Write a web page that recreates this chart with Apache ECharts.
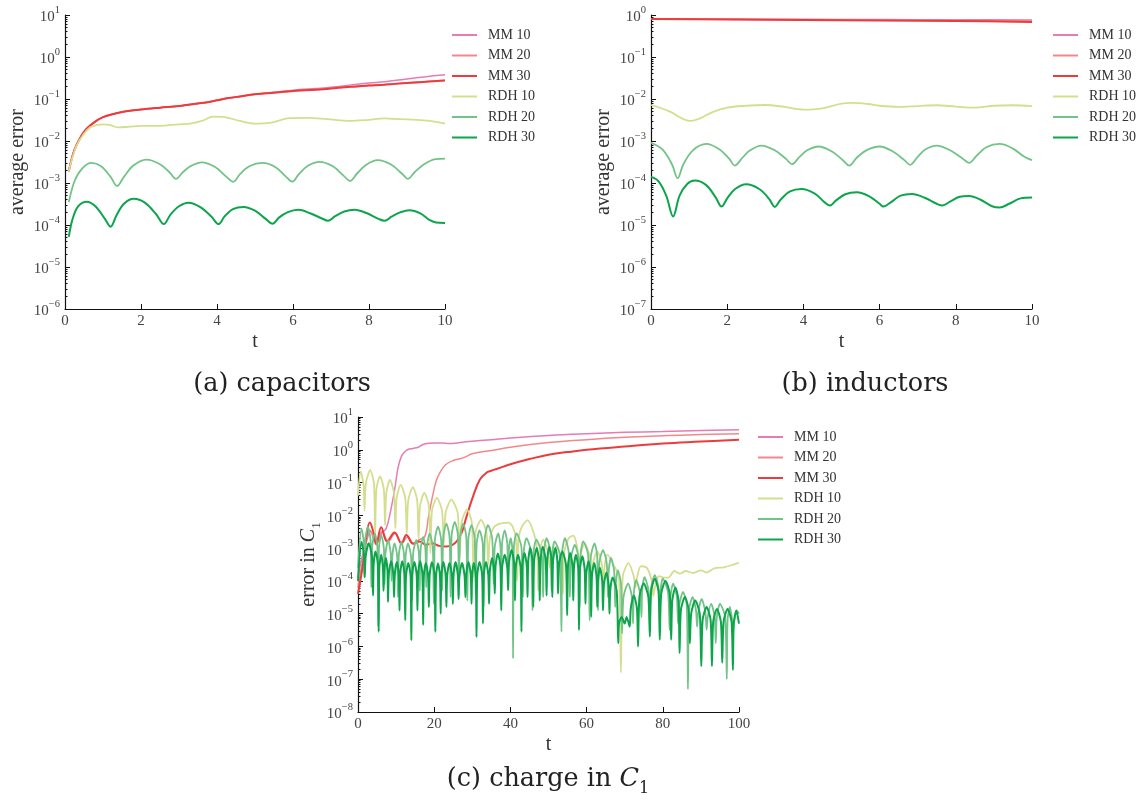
<!DOCTYPE html>
<html><head><meta charset="utf-8">
<script src="https://cdn.jsdelivr.net/npm/echarts@6/dist/echarts.min.js"></script>
<style>html,body{margin:0;padding:0;background:#fff}#c{width:1138px;height:805px}</style>
</head><body><div id="c"></div>
<script>
// ---------- names / colours ----------
const seriesNames = ['MM 10','MM 20','MM 30','RDH 10','RDH 20','RDH 30'];
const seriesColors = ['#e57cb6','#f3888a','#ec3b3b','#d5de8e','#72c387','#0ca54c'];
const seriesWidths = [1.5,1.5,2,1.8,1.8,2];
const captions = ['(a) capacitors','(b) inductors','(c) charge in '];

// ---------- (a) capacitors : [t, average error] ----------
const capMM30 = [[0.1,1.9e-3],[0.2,4.5e-3],[0.3,7.9e-3],[0.5,1.66e-2],[0.75,2.7e-2],[1,3.7e-2],[1.5,4.9e-2],[2,5.6e-2],[2.5,6.2e-2],[3,6.8e-2],[3.5,7.8e-2],[3.8,8.5e-2],[4,9.3e-2],[4.3,0.105],[4.6,0.115],[5,0.129],[5.5,0.141],[6,0.155],[6.6,0.166],[7,0.178],[7.5,0.195],[8,0.209],[8.4,0.219],[9,0.24],[9.5,0.257],[10,0.275]];
const capMM20 = [[0.1,1.9e-3],[0.2,4.5e-3],[0.3,7.9e-3],[0.5,1.66e-2],[0.75,2.7e-2],[1,3.7e-2],[1.5,4.9e-2],[2,5.6e-2],[2.5,6.2e-2],[3,6.8e-2],[3.5,7.8e-2],[3.8,8.5e-2],[4,9.3e-2],[4.3,0.105],[4.6,0.115],[5,0.129],[5.5,0.142],[6,0.156],[6.6,0.168],[7,0.18],[7.5,0.197],[8,0.212],[8.4,0.222],[9,0.245],[9.5,0.262],[10,0.28]];
const capMM10 = [[0.1,1.9e-3],[0.2,4.5e-3],[0.3,7.9e-3],[0.5,1.66e-2],[0.75,2.7e-2],[1,3.7e-2],[1.5,4.9e-2],[2,5.6e-2],[2.5,6.2e-2],[3,6.8e-2],[3.5,7.8e-2],[3.8,8.5e-2],[4,9.3e-2],[4.3,0.105],[4.6,0.115],[5,0.13],[5.5,0.145],[6,0.162],[6.6,0.178],[7,0.19],[7.5,0.214],[8,0.24],[8.4,0.257],[9,0.3],[9.5,0.34],[10,0.38]];
const capRDH10 = [[0.1,1.9e-3],[0.2,4.2e-3],[0.3,7.6e-3],[0.5,1.5e-2],[0.7,2.2e-2],[1,2.5e-2],[1.2,2.4e-2],[1.4,2.1e-2],[1.7,2.2e-2],[2,2.3e-2],[2.5,2.3e-2],[3,2.5e-2],[3.3,2.6e-2],[3.6,3.0e-2],[3.9,3.8e-2],[4.2,3.7e-2],[4.6,3.0e-2],[5,2.6e-2],[5.4,2.7e-2],[5.9,3.5e-2],[6.4,3.55e-2],[6.9,3.3e-2],[7.5,3.0e-2],[8,3.2e-2],[8.4,3.45e-2],[8.8,3.3e-2],[9.25,3.2e-2],[9.6,3.0e-2],[10,2.6e-2]];
const capRDH20 = [[0.1,3.5e-4],[0.25,1.1e-3],[0.45,2.2e-3],[0.7,3.0e-3],[0.95,2.5e-3],[1.2,1.4e-3],[1.37,8.5e-4],[1.55,1.4e-3],[1.8,2.6e-3],[2.14,3.6e-3],[2.5,2.8e-3],[2.75,1.8e-3],[2.92,1.26e-3],[3.1,1.8e-3],[3.3,2.5e-3],[3.6,3.1e-3],[3.95,2.4e-3],[4.25,1.4e-3],[4.43,1.07e-3],[4.6,1.6e-3],[4.85,2.5e-3],[5.2,3.0e-3],[5.55,2.35e-3],[5.82,1.4e-3],[5.98,1.07e-3],[6.15,1.6e-3],[6.4,2.6e-3],[6.7,3.2e-3],[7.05,2.5e-3],[7.33,1.5e-3],[7.5,1.12e-3],[7.68,1.66e-3],[7.92,2.7e-3],[8.23,3.5e-3],[8.58,2.75e-3],[8.87,1.66e-3],[9.02,1.26e-3],[9.2,1.8e-3],[9.45,2.8e-3],[9.75,3.7e-3],[10,3.8e-3]];
const capRDH30 = [[0.1,5.2e-5],[0.2,1.4e-4],[0.35,2.8e-4],[0.57,3.6e-4],[0.8,2.8e-4],[1.05,1.4e-4],[1.2,9.1e-5],[1.35,1.66e-4],[1.55,3.2e-4],[1.81,4.2e-4],[2.1,3.4e-4],[2.4,1.8e-4],[2.6,1.05e-4],[2.78,1.8e-4],[3,2.8e-4],[3.25,3.4e-4],[3.55,2.7e-4],[3.85,1.6e-4],[4.04,1.05e-4],[4.2,1.6e-4],[4.42,2.4e-4],[4.7,2.7e-4],[5,2.2e-4],[5.28,1.4e-4],[5.46,1.07e-4],[5.63,1.5e-4],[5.85,2.0e-4],[6.14,2.3e-4],[6.45,1.9e-4],[6.75,1.45e-4],[6.92,1.26e-4],[7.1,1.6e-4],[7.35,2.1e-4],[7.62,2.3e-4],[7.95,1.9e-4],[8.25,1.4e-4],[8.41,1.26e-4],[8.6,1.6e-4],[8.82,2.0e-4],[9.06,2.25e-4],[9.35,1.9e-4],[9.6,1.3e-4],[9.76,1.15e-4],[10,1.12e-4]];

// ---------- (b) inductors : [t, average error] ----------
const indMM10 = [[0,0.81],[2,0.8],[4,0.79],[6,0.78],[8,0.77],[10,0.76]];
const indMM20 = [[0,0.81],[2,0.79],[4,0.775],[6,0.76],[8,0.745],[10,0.73]];
const indMM30 = [[0,0.8],[2,0.78],[4,0.76],[6,0.74],[8,0.72],[10,0.685]];
const indRDH10 = [[0,7.2e-3],[0.5,5.0e-3],[0.8,3.5e-3],[1.05,3.0e-3],[1.3,3.5e-3],[1.6,4.8e-3],[2,6.2e-3],[2.5,6.9e-3],[3,7.2e-3],[3.5,6.5e-3],[4,5.6e-3],[4.5,6.0e-3],[5,7.8e-3],[5.3,8.1e-3],[5.7,7.6e-3],[6,6.9e-3],[6.5,6.5e-3],[7,6.8e-3],[7.5,7.1e-3],[8,6.6e-3],[8.5,6.2e-3],[9,6.9e-3],[9.5,7.1e-3],[10,6.8e-3]];
const indRDH20 = [[0,9.1e-4],[0.3,6.3e-4],[0.55,2.8e-4],[0.7,1.3e-4],[0.85,2.8e-4],[1.1,6.0e-4],[1.45,8.5e-4],[1.8,6.3e-4],[2.05,3.8e-4],[2.2,2.6e-4],[2.4,4.0e-4],[2.6,6.0e-4],[2.9,7.8e-4],[3.25,6.0e-4],[3.55,3.7e-4],[3.7,2.8e-4],[3.9,4.2e-4],[4.1,6.0e-4],[4.4,7.4e-4],[4.75,5.6e-4],[5.05,3.4e-4],[5.2,2.6e-4],[5.4,4.0e-4],[5.65,6.0e-4],[6,7.4e-4],[6.35,5.6e-4],[6.65,3.5e-4],[6.8,2.7e-4],[7,4.2e-4],[7.2,6.3e-4],[7.5,7.8e-4],[7.85,6.0e-4],[8.2,3.7e-4],[8.35,3.0e-4],[8.55,4.5e-4],[8.8,7.1e-4],[9.15,8.5e-4],[9.5,6.6e-4],[9.8,4.2e-4],[10,3.5e-4]];
const indRDH30 = [[0,1.4e-4],[0.2,1.1e-4],[0.4,5.0e-5],[0.58,1.6e-5],[0.75,5.0e-5],[0.95,9.5e-5],[1.15,1.15e-4],[1.45,8.9e-5],[1.7,4.5e-5],[1.85,2.75e-5],[2,4.3e-5],[2.2,7.1e-5],[2.5,9.3e-5],[2.85,7.1e-5],[3.1,4.2e-5],[3.25,2.7e-5],[3.4,4.0e-5],[3.65,6.3e-5],[3.95,7.2e-5],[4.3,5.6e-5],[4.55,3.5e-5],[4.7,2.9e-5],[4.85,3.8e-5],[5.1,5.4e-5],[5.4,6.0e-5],[5.75,4.7e-5],[6,3.2e-5],[6.1,2.75e-5],[6.3,3.5e-5],[6.55,5.0e-5],[6.85,5.5e-5],[7.2,4.4e-5],[7.5,3.2e-5],[7.65,2.9e-5],[7.85,3.6e-5],[8.1,4.7e-5],[8.35,4.9e-5],[8.65,4.0e-5],[8.95,2.8e-5],[9.15,2.6e-5],[9.4,3.2e-5],[9.7,4.3e-5],[10,4.5e-5]];

// ---------- (c) charge in C1 : [t, error] ----------
const chgMM10 = [[0,1.3e-4],[1,5.0e-4],[2,1.26e-3],[3.3,3.2e-3],[4.8,1.4e-3],[6.2,2.8e-3],[7.4,4.0e-3],[8.5,1.26e-2],[9.6,5.9e-2],[10.5,0.28],[11.4,0.63],[12.3,0.87],[13.1,1.02],[14.4,1.1],[15.8,1.2],[16.8,1.4],[18,1.55],[20,1.62],[22,1.62],[24,1.55],[26,1.62],[30,1.82],[35,2.04],[40,2.3],[50,2.75],[60,3.1],[70,3.4],[80,3.6],[90,3.9],[100,4.1]];
const chgMM20 = [[0,6.3e-5],[1.5,6.3e-4],[3.2,3.5e-3],[4.8,1.26e-3],[6.3,3.2e-3],[8,1.6e-3],[9.7,2.8e-3],[11.5,1.4e-3],[13,2.2e-3],[14.6,1.4e-3],[16,1.8e-3],[17.5,2.2e-3],[18.5,8.9e-3],[19.5,3.5e-2],[20.5,0.11],[21.5,0.2],[23,0.35],[25,0.47],[27,0.54],[28.5,0.63],[30,0.76],[35,0.95],[40,1.2],[50,1.66],[60,2.04],[70,2.4],[80,2.7],[90,2.9],[100,3.1]];
const chgMM30 = [[0,4.0e-5],[0.6,1.0e-4],[1.3,3.2e-4],[2.1,2.0e-3],[3.1,6.0e-3],[4,3.2e-3],[4.8,1.35e-3],[6.1,4.3e-3],[7.6,1.6e-3],[9.6,3.0e-3],[11.4,1.4e-3],[12.7,2.5e-3],[14.5,1.35e-3],[16.2,1.6e-3],[17.8,1.26e-3],[19.5,1.4e-3],[21.3,1.17e-3],[23.2,1.12e-3],[24.8,1.26e-3],[25.9,1.6e-3],[27.2,2.9e-3],[28.5,9.3e-3],[30.2,3.8e-2],[32,0.123],[33.7,0.2],[35,0.23],[36.4,0.26],[40,0.36],[45,0.52],[50,0.71],[55,0.85],[60,1.0],[70,1.26],[80,1.55],[90,1.78],[100,2.04]];
const chgRDH10 = [[0,4e-2],[0.7,0.22],[1.45,8.8e-2],[1.7,1.4e-2],[2.08,9.6e-2],[3.2,0.24],[4.18,9.6e-2],[4.5,2.5e-3],[4.82,6.2e-2],[5.8,0.155],[6.78,6.2e-2],[7.1,5.0e-3],[7.42,4.8e-2],[8.4,0.12],[9.45,4.8e-2],[9.8,4.0e-3],[10.15,3.4e-2],[11.2,8.5e-2],[12.4,3.4e-2],[12.8,2.8e-3],[13.2,2.9e-2],[14.4,7.2e-2],[15.52,2.9e-2],[15.9,2.0e-3],[16.28,1.9e-2],[17.4,4.8e-2],[18.6,1.9e-2],[19,7.1e-4],[19.42,1.4e-2],[20.7,3.4e-2],[22.05,1.4e-2],[22.5,1.26e-3],[23,1.2e-2],[24.5,3.0e-2],[26.15,1.2e-2],[26.7,5.0e-4],[27.18,6.0e-3],[28.6,1.5e-2],[29.88,6.0e-3],[30.3,1.26e-4],[30.8,2.9e-3],[32.3,7.2e-3],[33.72,2.9e-3],[34.2,3.2e-4],[34.6,2.0e-3],[35.5,4.0e-3],[36.5,5.2e-3],[38,5.8e-3],[39.5,6.0e-3],[40.6,4.5e-3],[41.5,1.8e-3],[41.8,1.0e-4],[42.1,1.8e-3],[43,4.5e-3],[44.5,7.1e-3],[46,3.2e-3],[47,1.0e-3],[47.3,5.0e-5],[47.62,7.2e-4],[48.6,1.8e-3],[49.9,7.2e-4],[50.3,2.5e-4],[50.72,4.5e-4],[52,1.12e-3],[53.35,4.5e-4],[53.8,4.0e-5],[54.18,8e-4],[55.3,2.0e-3],[56.5,2.4e-3],[57.62,9.6e-4],[58,1.26e-4],[58.38,5.6e-4],[59.5,1.4e-3],[60.78,5.6e-4],[61.2,4.0e-5],[61.6,3.2e-4],[62.8,7.9e-4],[64,3.2e-4],[64.4,3.2e-5],[64.68,2.5e-4],[65.5,6.3e-4],[67,3.2e-4],[68.5,1.3e-4],[69,1.6e-7],[69.5,1.4e-4],[71,3.5e-4],[72.35,1.4e-4],[72.8,6.3e-5],[73.15,1.1e-4],[74.2,2.8e-4],[75.8,2.5e-4],[77.1,1.0e-4],[77.5,3.5e-5],[77.9,6e-5],[79,1.4e-4],[80.3,1.26e-4],[81.5,1.26e-4],[83,2.0e-4],[84.5,1.66e-4],[86,2.0e-4],[88,1.74e-4],[90,2.1e-4],[91.5,1.8e-4],[93.5,2.4e-4],[96,2.6e-4],[98,3.0e-4],[100,3.6e-4]];
const chgRDH20 = [[0,2.5e-4],[0.9,4.0e-3],[1.5,1.6e-3],[1.7,1.26e-4],[1.92,1.8e-3],[2.6,4.5e-3],[3.28,1.8e-3],[3.5,6.3e-5],[3.72,1.1e-3],[4.4,2.8e-3],[5.08,1.1e-3],[5.3,4.0e-6],[5.5,1.0e-3],[6.1,2.5e-3],[6.78,1.0e-3],[7,7.9e-5],[7.22,7.0e-4],[7.9,1.74e-3],[8.58,7.0e-4],[8.8,1.0e-4],[9,5.6e-4],[9.6,1.4e-3],[10.28,5.6e-4],[10.5,3.2e-5],[10.72,6.2e-4],[11.4,1.55e-3],[12.08,6.2e-4],[12.3,1.26e-5],[12.5,5.6e-4],[13.1,1.4e-3],[13.92,5.6e-4],[14.2,2.5e-5],[14.48,7.0e-4],[15.3,1.74e-3],[15.98,7.0e-4],[16.2,5.0e-5],[16.42,8.8e-4],[17.1,2.2e-3],[17.7,8.8e-4],[17.9,6.3e-5],[18.12,1.1e-3],[18.8,2.8e-3],[19.62,1.1e-3],[19.9,2.0e-5],[20.18,1.8e-3],[21,4.5e-3],[21.82,1.8e-3],[22.1,5.0e-5],[22.38,2.2e-3],[23.2,5.6e-3],[24.02,2.2e-3],[24.3,3.2e-5],[24.58,2.5e-3],[25.4,6.3e-3],[26.22,2.5e-3],[26.5,6.3e-5],[26.78,2.2e-3],[27.6,5.6e-3],[28.42,2.2e-3],[28.7,2.5e-5],[28.98,2.0e-3],[29.8,5.0e-3],[30.62,2.0e-3],[30.9,4.0e-5],[31.15,1.4e-3],[31.9,3.5e-3],[32.72,1.4e-3],[33,1.6e-5],[33.28,2.0e-3],[34.1,5.0e-3],[35.22,2.0e-3],[35.6,7.9e-5],[35.9,1.1e-3],[36.8,2.8e-3],[37.4,1.1e-3],[37.6,5.0e-5],[37.82,1.4e-3],[38.5,3.5e-3],[39.18,1.4e-3],[39.4,1.26e-4],[39.58,8e-4],[40.1,2.0e-3],[40.55,8e-4],[40.7,4.3e-7],[40.92,1.1e-3],[41.6,2.8e-3],[42.88,1.1e-3],[43.3,3.2e-5],[43.52,8e-4],[44.2,2.0e-3],[45.4,8e-4],[45.8,1.26e-5],[46.05,7.2e-4],[46.8,1.8e-3],[48.15,7.2e-4],[48.6,3.2e-5],[48.82,8e-4],[49.5,2.0e-3],[50.48,8e-4],[50.8,5.0e-5],[51,6.4e-4],[51.6,1.6e-3],[52.95,6.4e-4],[53.4,2.8e-6],[53.62,8e-4],[54.3,2.0e-3],[55.28,8e-4],[55.6,3.2e-5],[55.92,5e-4],[56.9,1.26e-3],[57.88,5e-4],[58.2,1.6e-5],[58.42,6.4e-4],[59.1,1.6e-3],[60.38,6.4e-4],[60.8,6.3e-6],[61.12,5.6e-4],[62.1,1.4e-3],[62.78,5.6e-4],[63,1.26e-5],[63.32,3.5e-4],[64.3,8.7e-4],[65.28,3.5e-4],[65.6,3.2e-5],[65.8,2.0e-4],[66.4,5.0e-4],[67.22,2.0e-4],[67.5,1.6e-5],[67.68,8.4e-5],[68.2,2.1e-4],[69.02,8.4e-5],[69.3,2.5e-6],[69.7,3.3e-5],[70.9,8.3e-5],[71.88,3.3e-5],[72.2,5.0e-6],[72.4,4.2e-5],[73,1.05e-4],[74.05,4.2e-5],[74.4,7.9e-6],[74.6,5.2e-5],[75.2,1.3e-4],[76.25,5.2e-5],[76.6,4.0e-6],[76.92,6.0e-5],[77.9,1.5e-4],[78.88,6.0e-5],[79.2,5.0e-6],[79.4,4.7e-5],[80,1.17e-4],[81.35,4.7e-5],[81.8,3.2e-6],[82.02,3.3e-5],[82.7,8.3e-5],[83.68,3.3e-5],[84,5.0e-6],[84.32,1.8e-5],[85.3,4.6e-5],[86.28,1.8e-5],[86.6,5.0e-8],[86.9,1.3e-5],[87.8,3.2e-5],[88.7,1.3e-5],[89,4.0e-6],[89.3,1.1e-5],[90.2,2.8e-5],[91.18,1.1e-5],[91.5,3.2e-6],[91.8,8e-6],[92.7,2.0e-5],[93.6,8e-6],[93.9,1.26e-6],[94.18,8e-6],[95,2.0e-5],[96.35,8e-6],[96.8,1.0e-7],[97,6.4e-6],[97.6,1.6e-5],[98.2,6.4e-6],[98.4,2.5e-6],[98.65,5e-6],[99.4,1.26e-5],[100,1.0e-5]];
const chgRDH30 = [[0,1.0e-4],[0.9,1.55e-3],[1.55,6.2e-4],[1.76,1.3e-4],[2.02,5.6e-4],[2.8,1.4e-3],[3.66,5.6e-4],[3.95,3.6e-5],[4.11,3.2e-4],[4.6,7.9e-4],[5.22,3.2e-4],[5.43,2.8e-6],[5.6,2.5e-4],[6.1,6.3e-4],[6.55,2.5e-4],[6.7,5.0e-5],[6.85,2.0e-4],[7.3,5.0e-4],[7.74,2.0e-4],[7.88,2.3e-5],[8.09,1.6e-4],[8.7,4.0e-4],[9.27,1.6e-4],[9.46,3.2e-5],[9.65,1.5e-4],[10.2,3.8e-4],[10.72,1.5e-4],[10.9,1.26e-5],[11.08,1.6e-4],[11.6,4.0e-4],[12.2,1.6e-4],[12.4,6.3e-6],[12.6,1.4e-4],[13.2,3.5e-4],[13.8,1.4e-4],[14,1.55e-6],[14.2,1.5e-4],[14.8,3.8e-4],[15.4,1.5e-4],[15.6,1.26e-5],[15.78,1.6e-4],[16.3,4.0e-4],[16.9,1.6e-4],[17.1,4.5e-6],[17.28,1.4e-4],[17.8,3.5e-4],[18.4,1.4e-4],[18.6,1.6e-5],[18.8,1.5e-4],[19.4,3.7e-4],[20.08,1.5e-4],[20.3,2.8e-6],[20.48,1.4e-4],[21,3.4e-4],[21.52,1.4e-4],[21.7,1.0e-5],[21.88,1.5e-4],[22.4,3.8e-4],[23,1.5e-4],[23.2,1.6e-5],[23.4,1.4e-4],[24,3.5e-4],[24.68,1.4e-4],[24.9,2.0e-5],[25.08,1.5e-4],[25.6,3.8e-4],[26.2,1.5e-4],[26.4,2.8e-5],[26.62,1.4e-4],[27.3,3.5e-4],[27.98,1.4e-4],[28.2,3.2e-5],[28.4,1.5e-4],[29,3.8e-4],[29.6,1.5e-4],[29.8,2.0e-5],[29.95,1.4e-4],[30.4,3.5e-4],[30.92,1.4e-4],[31.1,1.95e-6],[31.3,1.5e-4],[31.9,3.8e-4],[32.58,1.5e-4],[32.8,5.0e-6],[33,1.5e-4],[33.6,3.8e-4],[34.2,1.5e-4],[34.4,2.0e-5],[34.6,2.0e-4],[35.2,5.0e-4],[35.72,2.0e-4],[35.9,4.1e-5],[36.1,2.8e-4],[36.7,6.9e-4],[37.38,2.8e-4],[37.6,1.26e-5],[37.82,2.5e-4],[38.5,6.3e-4],[39.18,2.5e-4],[39.4,5.2e-5],[39.62,3.5e-4],[40.3,8.7e-4],[40.98,3.5e-4],[41.2,2.5e-5],[41.4,2.5e-4],[42,6.3e-4],[42.68,2.5e-4],[42.9,2.8e-6],[43.1,2.8e-4],[43.7,7.1e-4],[44.3,2.8e-4],[44.5,3.2e-5],[44.68,4.0e-4],[45.2,1.0e-3],[45.8,4.0e-4],[46,1.6e-5],[46.22,4.0e-4],[46.9,1.0e-3],[47.5,4.0e-4],[47.7,2.5e-5],[47.9,4.4e-4],[48.5,1.1e-3],[49.25,4.4e-4],[49.5,3.6e-5],[49.68,4.4e-4],[50.2,1.1e-3],[50.8,4.4e-4],[51,3.2e-5],[51.2,4.0e-4],[51.8,1.0e-3],[52.32,4.0e-4],[52.5,4.1e-5],[52.78,3.2e-4],[53.6,7.9e-4],[54.58,3.2e-4],[54.9,8.9e-6],[55.1,2.8e-4],[55.7,7.1e-4],[56.3,2.8e-4],[56.5,2.5e-5],[56.68,2.5e-4],[57.2,6.3e-4],[57.8,2.5e-4],[58,3.2e-6],[58.22,2.2e-4],[58.9,5.6e-4],[59.5,2.2e-4],[59.7,2.0e-5],[59.9,1.6e-4],[60.5,4.0e-4],[61.02,1.6e-4],[61.2,7.9e-6],[61.4,1.4e-4],[62,3.5e-4],[62.6,1.4e-4],[62.8,1.6e-5],[62.98,1.0e-4],[63.5,2.5e-4],[64.1,1.0e-4],[64.3,1.26e-5],[64.52,7.2e-5],[65.2,1.8e-4],[65.8,7.2e-5],[66,1.0e-5],[66.2,5.0e-5],[66.8,1.26e-4],[67.9,5.0e-5],[68.3,1.26e-6],[68.5,5.0e-6],[69.2,7.9e-6],[70,5.0e-6],[70.5,7.9e-6],[71.3,4.0e-6],[71.58,1.4e-5],[72.4,3.6e-5],[73.22,1.4e-5],[73.5,1.0e-6],[73.88,3.3e-5],[75,8.3e-5],[76.2,3.3e-5],[76.6,2.0e-6],[76.92,4.7e-5],[77.9,1.17e-4],[78.88,4.7e-5],[79.2,1.6e-6],[79.58,4.0e-5],[80.7,1.0e-4],[81.82,4.0e-5],[82.2,1.6e-6],[82.48,2.5e-5],[83.3,6.3e-5],[84.12,2.5e-5],[84.4,6.3e-7],[84.75,1.3e-5],[85.8,3.2e-5],[86.78,1.3e-5],[87.1,1.26e-6],[87.45,1.0e-5],[88.5,2.5e-5],[89.7,1.0e-5],[90.1,2.5e-7],[90.45,6.4e-6],[91.5,1.6e-5],[92.55,6.4e-6],[92.9,2.5e-7],[93.22,5.6e-6],[94.2,1.4e-5],[95.25,5.6e-6],[95.6,3.2e-7],[95.95,5.6e-6],[97,1.4e-5],[98.05,5.6e-6],[98.4,1.9e-7],[98.62,5.0e-6],[99.3,1.26e-5],[100,5.0e-6]];

// ---------- axis ranges / ticks ----------
const xRangeAB = [0, 10], xTickAB = 2;
const xRangeC = [0, 100], xTickC = 20;
const yRangeA = [1e-6, 10], yRangeB = [1e-7, 1], yRangeC = [1e-8, 10];

const FONT = '"Liberation Serif", "DejaVu Serif", serif';
const CAPFONT = '"DejaVu Serif", serif';

function minorValues(r) {
  const out = [];
  const e0 = Math.round(Math.log10(r[0])), e1 = Math.round(Math.log10(r[1]));
  for (let e = e0; e < e1; e++) for (let k = 2; k <= 9; k++) out.push(Number((k * Math.pow(10, e)).toPrecision(3)));
  return out;
}
function expLabel(v) {
  const e = Math.round(Math.log10(v));
  return '{b|10}{s|' + (e < 0 ? '\u2212' + (-e) : e) + '}';
}
const labelRich = {
  b: { fontFamily: FONT, fontSize: 15, color: '#444', verticalAlign: 'bottom', lineHeight: 20 },
  s: { fontFamily: FONT, fontSize: 10.5, color: '#444', verticalAlign: 'top', lineHeight: 20 }
};
function yMajor(gi, r, name, gap) {
  return {
    type: 'log', logBase: 10, gridIndex: gi, position: 'left', min: r[0], max: r[1], interval: 1,
    axisLine: { show: true, lineStyle: { color: '#111', width: 1.2 } },
    axisTick: { show: true, inside: true, length: 5, lineStyle: { color: '#111' } },
    axisLabel: { formatter: expLabel, rich: labelRich, margin: 5 },
    splitLine: { show: false },
    name: name, nameLocation: 'middle', nameGap: gap,
    nameTextStyle: {
      fontFamily: FONT, fontSize: 20, color: '#333',
      rich: {
        n: { fontFamily: FONT, fontSize: 20, color: '#333' },
        i: { fontFamily: FONT, fontSize: 20, color: '#333', fontStyle: 'italic' },
        sub: { fontFamily: FONT, fontSize: 13, color: '#333', verticalAlign: 'bottom', lineHeight: 28 }
      }
    }
  };
}
function yMinor(gi, r) {
  return {
    type: 'log', logBase: 10, gridIndex: gi, position: 'left', min: r[0], max: r[1], interval: 1,
    axisLine: { show: false },
    axisTick: { show: true, inside: true, length: 2.5, customValues: minorValues(r), lineStyle: { color: '#111' } },
    axisLabel: { show: false }, splitLine: { show: false }
  };
}
function xAx(gi, r, iv) {
  return {
    type: 'value', gridIndex: gi, min: r[0], max: r[1], interval: iv,
    axisLine: { lineStyle: { color: '#111', width: 1.2 } },
    axisTick: { inside: true, length: 5, lineStyle: { color: '#111' } },
    axisLabel: { fontFamily: FONT, fontSize: 15, color: '#444', margin: 5 },
    splitLine: { show: false },
    name: 't', nameLocation: 'middle', nameGap: 23,
    nameTextStyle: { fontFamily: FONT, fontSize: 20, color: '#333' }
  };
}
function mk(data, i, xi, yi, smooth) {
  return {
    name: seriesNames[i], type: 'line', data: data, xAxisIndex: xi, yAxisIndex: yi,
    symbol: 'none', smooth: smooth, color: seriesColors[i],
    lineStyle: { width: seriesWidths[i], color: seriesColors[i] }, z: 2 + i
  };
}
function legend(left, top) {
  return {
    orient: 'vertical', left: left, top: top, icon: 'rect', itemWidth: 25, itemHeight: 2, itemGap: 6.5,
    data: seriesNames, selectedMode: false,
    textStyle: { fontFamily: FONT, fontSize: 14, lineHeight: 14, color: '#333', padding: [0, 0, 0, 6] }
  };
}

const capSeries = [capMM10, capMM20, capMM30, capRDH10, capRDH20, capRDH30];
const indSeries = [indMM10, indMM20, indMM30, indRDH10, indRDH20, indRDH30];
const chgSeries = [chgMM10, chgMM20, chgMM30, chgRDH10, chgRDH20, chgRDH30];

const series = [];
capSeries.forEach((d, i) => series.push(mk(d, i, 0, 0, 0.35)));
indSeries.forEach((d, i) => series.push(mk(d, i, 1, 2, 0.35)));
chgSeries.forEach((d, i) => series.push(mk(d, i, 2, 4, i < 3 ? 0.4 : 0.25)));

const chart = echarts.init(document.getElementById('c'), null, { renderer: 'canvas' });
chart.setOption({
  backgroundColor: '#fff',
  animation: false,
  grid: [
    { left: 65, top: 15, width: 380, height: 294 },
    { left: 651, top: 15, width: 381, height: 294 },
    { left: 358, top: 417, width: 381, height: 295 }
  ],
  xAxis: [xAx(0, xRangeAB, xTickAB), xAx(1, xRangeAB, xTickAB), xAx(2, xRangeC, xTickC)],
  yAxis: [
    yMajor(0, yRangeA, 'average error', 37), yMinor(0, yRangeA),
    yMajor(1, yRangeB, 'average error', 37), yMinor(1, yRangeB),
    yMajor(2, yRangeC, '{n|error in }{i|C}{sub|1}', 32), yMinor(2, yRangeC)
  ],
  legend: [legend(447, 23), legend(1048, 23), legend(753, 425)],
  graphic: [
    { type: 'text', style: { text: captions[0], x: 282, y: 384, textAlign: 'center', textVerticalAlign: 'middle', font: '25.5px ' + CAPFONT, fill: '#222' } },
    { type: 'text', style: { text: captions[1], x: 865, y: 384, textAlign: 'center', textVerticalAlign: 'middle', font: '25.5px ' + CAPFONT, fill: '#222' } },
    { type: 'text', style: { text: '{t|' + captions[2] + '}{i|C}{sub|1}', x: 548, y: 779, textAlign: 'center', textVerticalAlign: 'middle',
        rich: { t: { font: '25.5px ' + CAPFONT, fill: '#222' }, i: { font: 'italic 25.5px ' + CAPFONT, fill: '#222' }, sub: { font: '16px ' + CAPFONT, fill: '#222', verticalAlign: 'bottom', lineHeight: 36 } } } }
  ],
  series: series
});
</script>
</body></html>
